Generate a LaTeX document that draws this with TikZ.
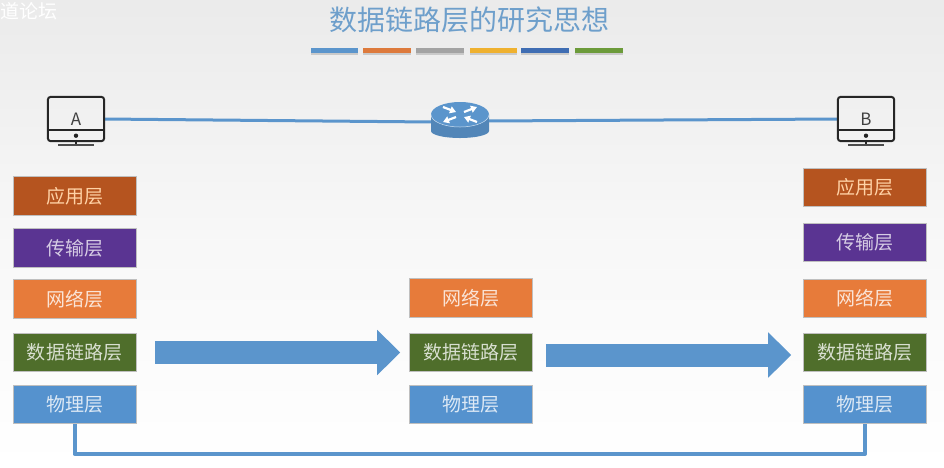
\documentclass[tikz,border=0pt]{standalone}
\usepackage{fontspec}
\setmainfont{Noto Sans CJK SC}
\usetikzlibrary{arrows.meta,positioning,calc}
\definecolor{cApp}{HTML}{B5541F}
\definecolor{cTrans}{HTML}{5A3492}
\definecolor{cNet}{HTML}{E77B3A}
\definecolor{cLink}{HTML}{4F6E2B}
\definecolor{cPhy}{HTML}{5592CE}
\definecolor{cLine}{HTML}{5B95CC}
\definecolor{cTitle}{HTML}{6E9FCB}
\tikzset{
  layer/.style={draw=white!75!black,line width=.6pt,minimum width=123pt,minimum height=38.5pt,inner sep=0pt,font=\fontsize{19pt}{20pt}\selectfont},
  app/.style={layer,fill=cApp,text=orange!35!white},
  trans/.style={layer,fill=cTrans,text=white!75!cTrans},
  net/.style={layer,fill=cNet,text=white!80!cNet},
  lnk/.style={layer,fill=cLink,text=white!78!cLink},
  phy/.style={layer,fill=cPhy,text=white!80!cPhy},
  bar/.style={line width=5pt},
  barshadow/.style={line width=5pt,black!30,opacity=.6},
  wire/.style={cLine,line width=3pt},
  bigarrow/.style={cLine,line width=23pt,-{Triangle[length=23pt,width=44pt]}},
  cable/.style={cLine,line width=4pt,line join=round},
  screen/.style={minimum width=56pt,minimum height=44pt,inner sep=0pt,font=\fontsize{17pt}{18pt}\selectfont,text=black!75},
  pcline/.style={black!85,line width=2pt},
  hub/.style={minimum width=58pt,minimum height=36pt,inner sep=0pt}
}
\newcommand{\pcicon}[1]{%
  \draw[pcline,rounded corners=3pt] (#1.north west) rectangle (#1.south east);
  \draw[pcline] ($(#1.south west)+(0,-11)$) -- ($(#1.south east)+(0,-11)$);
  \fill[black!85] ($(#1.south)+(0,-5.5)$) circle (2.2pt);
  \draw[pcline] ($(#1.south)+(0,-1.5)$) -- ($(#1.south)+(0,4)$);
  \draw[pcline,black!70] ($(#1.south)+(-18,4)$) -- ($(#1.south)+(18,4)$);
}
\begin{document}
\begin{tikzpicture}[x=1pt,y=-1pt]
\useasboundingbox (0,0) rectangle (944,467);
\shade[top color=black!8,bottom color=white,middle color=black!3] (0,0) rectangle (944,467);
\node[text=white,font=\fontsize{19pt}{20pt}\selectfont,anchor=center] (wm) at (29,11) {道论坛};
\node[text=cTitle,font=\fontsize{28pt}{30pt}\selectfont] (title) at (469,20) {数据链路层的研究思想};
% colour bars
\foreach \a/\b/\c in {311/358/5B95CC,363/411/DD7A3C,416/464/A3A3A3,470/517/EFB12F,521/569/3F6DB3,575/623/6C9B3A}{
  \draw[barshadow] (\a,52.5) -- (\b,52.5);
  \definecolor{tmpc}{HTML}{\c}
  \draw[bar,tmpc] (\a,50) -- (\b,50);
}
% devices
\node[screen] (A) at (76,119) {A};
\node[screen] (B) at (866,119) {B};
\node[hub] (R) at (460,120) {};
\draw[wire] (A.east) -- ($(R.west)+(2,2)$);
\draw[wire] ($(R.east)+(-2,1)$) -- (B.west);
\pcicon{A}
\pcicon{B}
% router
\fill[cLine!90!black] (431,114.5) -- (431,131) arc[start angle=180,end angle=0,x radius=29,y radius=7] -- (489,114.5) -- cycle;
\fill[cLine] (460,114.5) ellipse [x radius=29,y radius=12.5];
\draw[white!70!cLine,line width=.5pt] (431,114.5) arc[start angle=180,end angle=0,x radius=29,y radius=12.5];
\draw[white,line width=2.2pt,-{Triangle[length=6pt,width=7pt]}] (443,107) -- (456,112);
\draw[white,line width=2.2pt,-{Triangle[length=6pt,width=7pt]}] (456,117) -- (443,122);
\draw[white,line width=2.2pt,-{Triangle[length=6pt,width=7pt]}] (477,122) -- (464,117);
\draw[white,line width=2.2pt,-{Triangle[length=6pt,width=7pt]}] (464,112) -- (477,107);
% left stack
\node[app] (a1) at (74.5,196) {应用层};
\node[trans] (a2) at (74.5,248) {传输层};
\node[net] (a3) at (74.5,299) {网络层};
\node[lnk] (a4) at (74.5,352.5) {数据链路层};
\node[phy] (a5) at (74.5,404.5) {物理层};
% middle stack
\node[net] (m3) at (471,298) {网络层};
\node[lnk] (m4) at (471,352.5) {数据链路层};
\node[phy] (m5) at (471,404.5) {物理层};
% right stack
\node[app] (b1) at (865,187.5) {应用层};
\node[trans] (b2) at (865,242.5) {传输层};
\node[net] (b3) at (865,298.5) {网络层};
\node[lnk] (b4) at (865,352.5) {数据链路层};
\node[phy] (b5) at (865,404.5) {物理层};
% arrows
\draw[bigarrow,shorten <=19pt,shorten >=9pt] (a4.east) -- (m4.west);
\draw[bigarrow,shorten <=13pt,shorten >=12pt] ([yshift=-2.5pt]m4.east) -- ([yshift=-2.5pt]b4.west);
\draw[cable] (a5.south) -- ++(0,30) -| (b5.south);
\end{tikzpicture}
\end{document}
